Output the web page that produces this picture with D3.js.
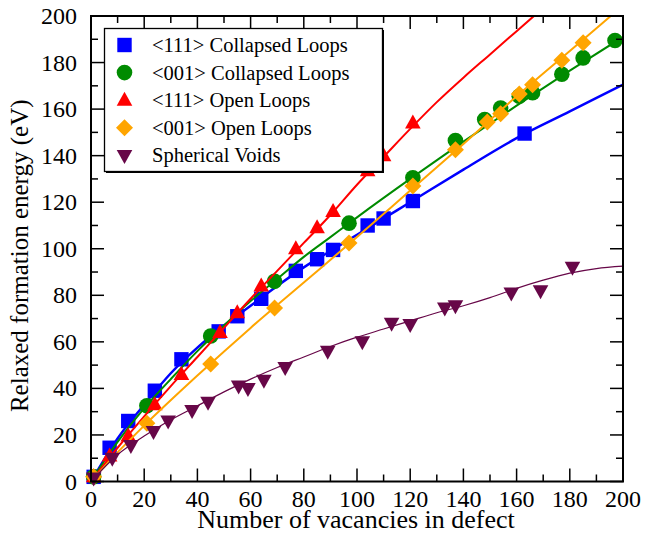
<!DOCTYPE html>
<html><head><meta charset="utf-8">
<script src="https://cdn.jsdelivr.net/npm/d3@7"></script>
<style>
body{margin:0;background:#fff}
svg text{font-family:"Liberation Serif","Times New Roman",Times,serif;}
</style>
</head><body>
<script>
// ---- data ----
const xTicks = [0,20,40,60,80,100,120,140,160,180,200];
const yTicks = [0,20,40,60,80,100,120,140,160,180,200];
const seriesNames = ["<111> Collapsed Loops","<001> Collapsed Loops","<111> Open Loops","<001> Open Loops","Spherical Voids"];
const seriesColors = ["#0000ff","#008b00","#ff0000","#ffa500","#670748"];
const seriesSymbols = ["square","circle","triangleUp","diamond","triangleDown"];

const c111X = [1,7,14,24,34,48,55,64,77,85,91,104,110,121,163];
const c111Y = [2,14.5,26,39,52.5,64.5,71,78.5,90.5,95.5,99.5,110,113,120.5,149.5];
const c001X = [1,21,45,69,97,121,137,148,154,161,166,177,185,197];
const c001Y = [2,32.5,62.5,86,111,130.5,146.5,155.5,160.5,165.5,167,175,182,189.5];
const o111X = [1,7,14,24,34,48.5,55,64,77,85,91,104,110,121];
const o111Y = [2,11,19.5,33,46,64,72.5,84,100,109,116,133.5,140,154];
const o001X = [1,21,45,69,97,121,137,149,154,161,166,177,185];
const o001Y = [2,25,50.5,74.5,102.5,127,142.5,154.5,158,166.5,170.5,181,188.5];
const voidX = [1,8,15,23.5,29,38,44,55.5,59,65,73,89,102,113,120,133,137,158,169,181];
const voidY = [1.5,10,15.5,21.5,26,30.5,34,41,40,43.5,49,56,60,68,67.5,74.5,75.5,81,82,92];

// fitted curves
const fitC111X = [0,5,10,20,30,40,50,60,70,80,90,100,110,120,140,160,180,200];
const fitC111Y = [0,9.5,18.5,33,46.5,57.5,67,75.5,84,92,99,106,113,120,134,147.5,159,170.5];
const fitC001X = [0,10,20,30,40,50,60,70,80,90,100,120,140,160,180,200];
const fitC001Y = [0,17,31.5,44,56,67,77.5,87,96.5,105,113.5,130,146,161.5,176.5,191];
const fitO111X = [0,10,20,30,40,50,60,70,80,90,100,110,120,130,140,150,160,170];
const fitO111Y = [0,14.5,28,41,53.5,66,78.5,90.5,102.5,114.5,127.5,139.5,151.5,163,173.5,183.5,193.5,203.5];
const fitO001X = [0,10,20,40,60,80,100,120,140,160,180,200];
const fitO001Y = [0,12.5,24,45.5,66,85.5,105,125,145,165.5,185,204.5];
const fitVoidX = [0,10,20,30,40,50,60,70,80,90,100,110,120,130,140,150,160,170,180,190,200];
const fitVoidY = [0,11.5,19.5,26.5,32.5,38.5,44,49,53.5,58,62,65.5,69,72.5,75.5,79,83,86.5,89.5,91.5,92.5];

const pointsX = [c111X,c001X,o111X,o001X,voidX];
const pointsY = [c111Y,c001Y,o111Y,o001Y,voidY];
const fitsX = [fitC111X,fitC001X,fitO111X,fitO001X,fitVoidX];
const fitsY = [fitC111Y,fitC001Y,fitO111Y,fitO001Y,fitVoidY];
const lineWidths = [2.5,2,2,2,1.2];

// ---- layout ----
const W=646,H=539;
const L=91,R=623,T=16,B=481.5;
const x=d3.scaleLinear().domain([0,200]).range([L,R]);
const y=d3.scaleLinear().domain([0,200]).range([B,T]);
const svg=d3.select("body").append("svg").attr("width",W).attr("height",H);

svg.append("defs").append("clipPath").attr("id","clip").append("rect")
  .attr("x",L).attr("y",T).attr("width",R-L).attr("height",B-T);

const g=svg.append("g");
const line=d3.line().x(d=>x(d[0])).y(d=>y(d[1])).curve(d3.curveMonotoneX);

function symbol(sel,type,color){
  const s=7.2;
  if(type==="square") sel.append("rect").attr("x",-s).attr("y",-s).attr("width",2*s).attr("height",2*s).attr("fill",color);
  else if(type==="circle") sel.append("circle").attr("r",7.8).attr("fill",color);
  else if(type==="triangleUp") sel.append("path").attr("d","M0,-8.5L7.8,5.5L-7.8,5.5Z").attr("fill",color);
  else if(type==="triangleDown") sel.append("path").attr("d","M0,8.5L7.8,-5.5L-7.8,-5.5Z").attr("fill",color);
  else if(type==="diamond") sel.append("path").attr("d","M0,-8.5L8.5,0L0,8.5L-8.5,0Z").attr("fill",color);
}

for(let i=0;i<5;i++){
  const fit=fitsX[i].map((v,k)=>[v,fitsY[i][k]]);
  g.append("path").attr("d",line(fit)).attr("fill","none").attr("stroke",seriesColors[i])
   .attr("stroke-width",lineWidths[i]).attr("clip-path","url(#clip)");
  const pts=pointsX[i].map((v,k)=>[v,pointsY[i][k]]);
  pts.forEach(p=>{
    const m=g.append("g").attr("transform",`translate(${x(p[0])},${y(p[1])})`);
    symbol(m,seriesSymbols[i],seriesColors[i]);
  });
}

// frame
svg.append("rect").attr("x",L).attr("y",T).attr("width",R-L).attr("height",B-T)
  .attr("fill","none").attr("stroke","#000").attr("stroke-width",2);

// ticks
const minor=d3.range(0,201,10);
const ax=svg.append("g").attr("stroke","#000").attr("stroke-width",1.5);
minor.forEach(v=>{
  const len = v%20===0 ? 13 : 7;
  ax.append("line").attr("x1",x(v)).attr("x2",x(v)).attr("y1",B).attr("y2",B-len);
  ax.append("line").attr("x1",x(v)).attr("x2",x(v)).attr("y1",T).attr("y2",T+len);
  ax.append("line").attr("y1",y(v)).attr("y2",y(v)).attr("x1",L).attr("x2",L+len);
  ax.append("line").attr("y1",y(v)).attr("y2",y(v)).attr("x1",R).attr("x2",R-len);
});

// tick labels
svg.append("g").selectAll("text").data(xTicks).join("text")
  .attr("x",d=>x(d)).attr("y",507).attr("text-anchor","middle")
  .attr("font-size",24).text(d=>d);
svg.append("g").selectAll("text").data(yTicks).join("text")
  .attr("x",77).attr("y",d=>y(d)+8).attr("text-anchor","end")
  .attr("font-size",24).text(d=>d);

// axis titles
svg.append("text").attr("x",(L+R)/2-1).attr("y",528).attr("text-anchor","middle")
  .attr("font-size",26).text("Number of vacancies in defect");
svg.append("text").attr("transform",`translate(28,${(T+B)/2+7}) rotate(-90)`).attr("text-anchor","middle")
  .attr("font-size",25).text("Relaxed formation energy (eV)");

// legend
const lg=svg.append("g");
lg.append("rect").attr("x",106).attr("y",30).attr("width",278).attr("height",143)
  .attr("fill","#000");
lg.append("rect").attr("x",104.5).attr("y",28.5).attr("width",278).attr("height",143)
  .attr("fill","#fff").attr("stroke","#000").attr("stroke-width",1.3);
seriesNames.forEach((n,i)=>{
  const yy=45+i*27.6;
  const m=lg.append("g").attr("transform",`translate(124.5,${yy})`);
  symbol(m,seriesSymbols[i],seriesColors[i]);
  lg.append("text").attr("x",152).attr("y",yy+7).attr("font-size",20.5).text(n);
});
</script>
</body></html>
